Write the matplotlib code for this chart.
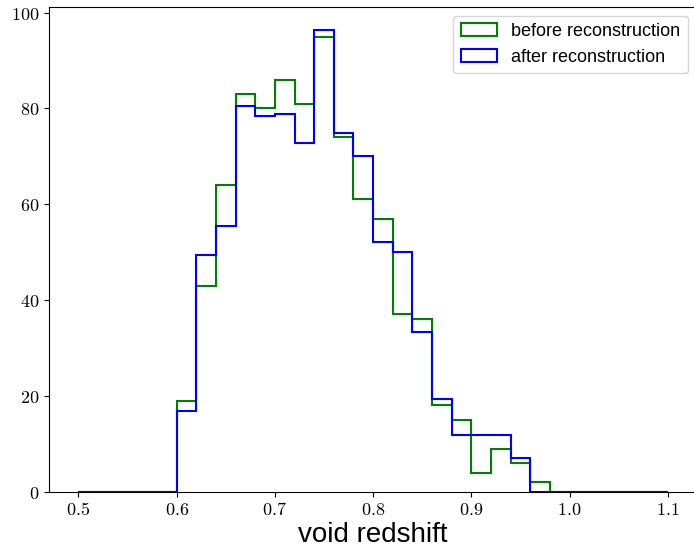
import matplotlib
matplotlib.use('Agg')
import matplotlib.pyplot as plt
import numpy as np
from matplotlib.ticker import FuncFormatter

plt.rcParams['mathtext.fontset'] = 'cm'

# bin edges 0.5 .. 1.1, width 0.02
edges = np.round(np.arange(0.5, 1.1001, 0.02), 2)

before = [0, 0, 0, 0, 0,
          19, 43, 64, 83, 80, 86, 81, 95, 74, 61,
          57, 37, 36, 18, 15, 4, 9, 6, 2, 0,
          0, 0, 0, 0, 0]
after = [0, 0, 0, 0, 0,
         16.8, 49.3, 55.4, 80.4, 78.4, 78.9, 72.8, 96.3, 74.9, 70.0,
         52.1, 50.0, 33.3, 19.4, 11.9, 11.9, 11.9, 7.0, 0, 0,
         0, 0, 0, 0, 0]

centers = (edges[:-1] + edges[1:]) / 2

fig = plt.figure(figsize=(6.94, 5.55), dpi=100)
ax = fig.add_axes([0.0706, 0.114, 0.934, 0.873])

ax.hist(centers, bins=edges, weights=before, histtype='step', color='green',
        linewidth=1.5, label='before reconstruction')
ax.hist(centers, bins=edges, weights=after, histtype='step', color='blue',
        linewidth=1.5, label='after reconstruction')

ax.set_xticks([0.5, 0.6, 0.7, 0.8, 0.9, 1.0, 1.1])
ax.set_yticks([0, 20, 40, 60, 80, 100])
ax.xaxis.set_major_formatter(FuncFormatter(lambda v, p: f'${v:.1f}$'))
ax.yaxis.set_major_formatter(FuncFormatter(lambda v, p: f'${v:.0f}$'))
ax.tick_params(labelsize=13)

ax.set_xlabel('void redshift', fontsize=20, family='Liberation Sans', labelpad=2)
ax.legend(loc='upper right', prop={'family': 'Liberation Sans', 'size': 13},
          bbox_to_anchor=(0.999, 1.001))

fig.savefig('out.png', dpi=100)
